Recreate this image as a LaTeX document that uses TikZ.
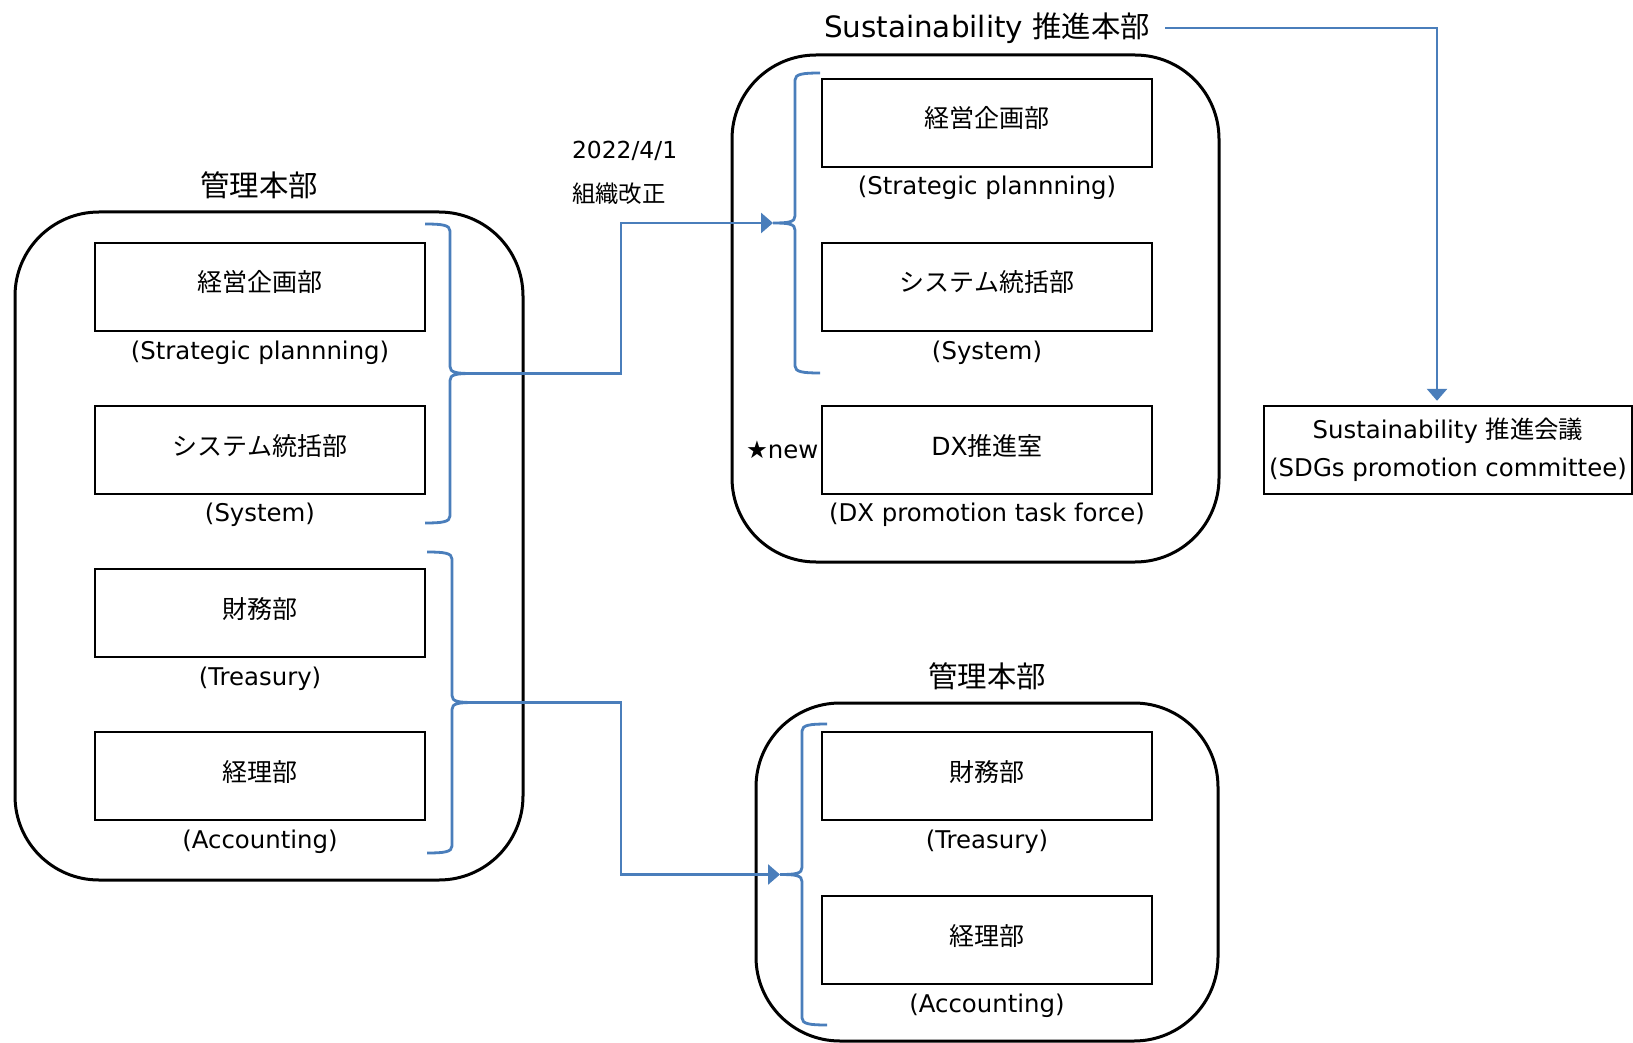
\documentclass[tikz,border=0pt]{standalone}
\usepackage{fontspec}
\setmainfont{DejaVu Sans}
\newfontfamily\jp{Noto Sans CJK JP}
\usepackage{tikz}
\usetikzlibrary{arrows.meta}
\definecolor{orgblue}{RGB}{74,126,187}

% blue brace: tip name, spine x, top y, bottom y, side (1 = right, -1 = left)
\newcommand{\orgbrace}[5]{%
  \pgfmathsetmacro{\bmid}{(#3+#4)/2}
  \draw[bracestyle] ({#2-25*(#5)},#3) .. controls ({#2-8*(#5)},#3) and (#2,{#3+1}) .. (#2,{#3+7})
    -- (#2,{\bmid-7}) .. controls (#2,{\bmid-1}) and ({#2+6*(#5)},\bmid) .. ({#2+22*(#5)},\bmid)
    .. controls ({#2+6*(#5)},\bmid) and (#2,{\bmid+1}) .. (#2,{\bmid+7})
    -- (#2,{#4-7}) .. controls (#2,{#4-1}) and ({#2-8*(#5)},#4) .. ({#2-25*(#5)},#4);
  \coordinate (#1) at ({#2+22*(#5)},\bmid);
}

\begin{document}
\begin{tikzpicture}
[x=0.5pt,y=-0.5pt,
 grpbox/.style={draw,line width=1.5pt,rounded corners=42pt},
 deptbox/.style={draw,line width=1.2pt,minimum width=165pt,minimum height=44pt,inner sep=0pt,
   text height=8pt,text depth=3pt,font=\jp\fontsize{12.5}{15}\selectfont},
 engl/.style={font=\fontsize{12.2}{15}\selectfont},
 sublbl/.style={engl,yshift=-1.5pt},
 grptitle/.style={font=\fontsize{14.7}{17}\selectfont},
 bracestyle/.style={line width=1.4pt,orgblue},
 bluearrow/.style={-{Triangle[length=6pt,width=10pt]},line width=1.4pt,orgblue}]
\useasboundingbox (0,0) rectangle (1633,1043);

% before: 管理本部
\draw[grpbox] (15,212) rectangle (523,880);
\node[grptitle] (kanriold) at (259,185) {\jp 管理本部};
\node[deptbox] (planold) at (260,287) {経営企画部};
\node[sublbl] (planoldlbl) at (260,350) {(Strategic plannning)};
\node[deptbox] (sysold) at (260,450) {システム統括部};
\node[sublbl] (sysoldlbl) at (260,512) {(System)};
\node[deptbox] (treasold) at (260,613) {財務部};
\node[sublbl] (treasoldlbl) at (260,676) {(Treasury)};
\node[deptbox] (accold) at (260,776) {経理部};
\node[sublbl] (accoldlbl) at (260,839) {(Accounting)};

% after: Sustainability 推進本部
\draw[grpbox] (732,55) rectangle (1219,562);
\node[grptitle] (susttitle) at (987,28) {Sustainability {\jp 推進本部}};
\node[deptbox] (plannew) at (987,123) {経営企画部};
\node[sublbl] (plannewlbl) at (987,185) {(Strategic plannning)};
\node[deptbox] (sysnew) at (987,287) {システム統括部};
\node[sublbl] (sysnewlbl) at (987,350) {(System)};
\node[deptbox] (dxnew) at (987,450) {{\normalfont DX}推進室};
\node[sublbl] (dxnewlbl) at (987,512) {(DX promotion task force)};
\node[engl,anchor=east,inner sep=1pt] (newmark) at (dxnew.west) {★new};

% after: 管理本部
\draw[grpbox] (756,703) rectangle (1218,1041);
\node[grptitle] (kanrinew) at (987,676) {\jp 管理本部};
\node[deptbox] (treasnew) at (987,776) {財務部};
\node[sublbl] (treasnewlbl) at (987,839) {(Treasury)};
\node[deptbox] (accnew) at (987,940) {経理部};
\node[sublbl] (accnewlbl) at (987,1003) {(Accounting)};

% committee
\node[draw,line width=1.2pt,minimum width=184pt,minimum height=44pt,inner sep=0pt,align=center,engl] (sdgs) at (1448,450)
  {Sustainability {\jp 推進会議}\\[4pt](SDGs promotion committee)};

% date
\node[anchor=west,font=\fontsize{11.7}{14}\selectfont] (date) at (565,151) {2022/4/1};
\node[anchor=west,font=\jp\fontsize{11.7}{14}\selectfont] (reorg) at (565,194) {組織改正};

% braces
\orgbrace{tipsys}{450}{224}{523}{1}
\orgbrace{tipfin}{452}{552}{853}{1}
\orgbrace{tipsust}{795}{73}{373}{-1}
\orgbrace{tipkanri}{802}{724}{1025}{-1}
\coordinate (bendx) at (621,0);

\draw[bluearrow] (tipsys) -- (tipsys -| bendx) |- (tipsust);
\draw[bluearrow] (tipfin) -- (tipfin -| bendx) |- (tipkanri);
\draw[bluearrow,shorten <=4pt,shorten >=2pt] (susttitle.east) -| ([xshift=-5.5pt]sdgs.north);

\end{tikzpicture}
\end{document}
